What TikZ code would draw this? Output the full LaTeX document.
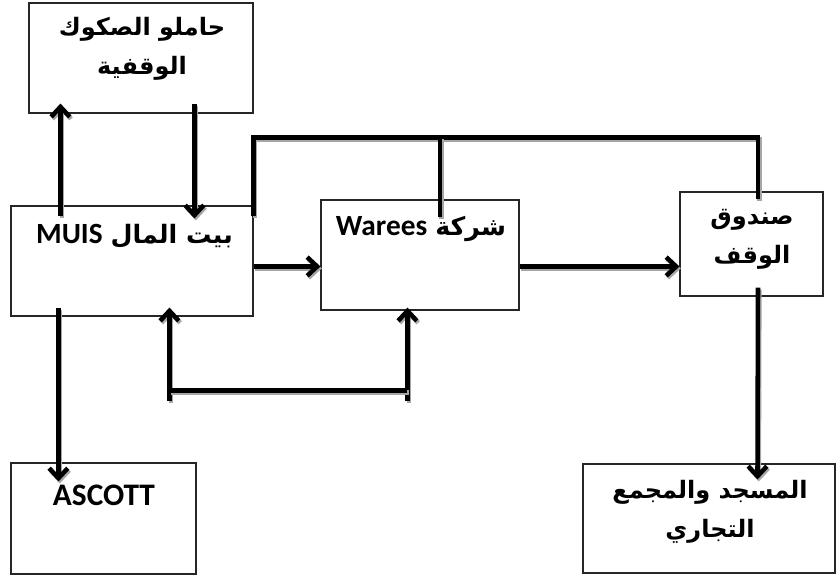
\documentclass[tikz,border=0pt]{standalone}
\usepackage{fontspec}
\usetikzlibrary{arrows.meta,calc}
\TeXXeTstate=1
\newfontfamily\arabicfont[Script=Arabic]{DejaVu Sans}
\newfontfamily\latinfont{Carlito}
\newcommand{\arsmall}{\arabicfont\bfseries\fontsize{19}{22}\selectfont}
\newcommand{\labig}{\latinfont\bfseries\fontsize{22}{24}\selectfont}
\tikzset{
  box/.style={draw=black!85, line width=0.8pt, rectangle, inner sep=0pt},
  lbl/.style={inner sep=0pt, align=center, font=\arabicfont\bfseries\fontsize{18}{29}\selectfont},
  mixlbl/.style={inner sep=0pt, font=\bfseries},
  thick line/.style={line width=3.4pt, line cap=butt,
    preaction={draw=black!35, line width=3.4pt, transform canvas={shift={(1pt,-1.5pt)}}}},
  arr/.style={thick line, -{Straight Barb[length=7.5pt,width=14pt]}},
}
\begin{document}
\begin{tikzpicture}[x=0.75pt,y=-0.75pt]
\useasboundingbox (0,0) rectangle (838,575);
% boxes
\node[box, minimum width=168pt, minimum height=82.5pt] (holders) at (141,58) {};
\node[box, minimum width=181.5pt, minimum height=82.5pt] (muis) at (132,261) {};
\node[box, minimum width=148.5pt, minimum height=82.5pt] (warees) at (420,255) {};
\node[box, minimum width=107.25pt, minimum height=78pt] (fund) at (751.5,244) {};
\node[box, minimum width=138.75pt, minimum height=83.25pt] (ascott) at (103.5,518.5) {};
\node[box, minimum width=189pt, minimum height=81.75pt] (mosque) at (709,518.5) {};
% labels
\node[lbl] (tholders) at (142,49) {\beginR حاملو الصكوك\endR\\\beginR الوقفية\endR};
\node[mixlbl] (tmuis) at (134.5,236) {\beginR{\arsmall بيت المال}\hspace{6pt}\beginL{\labig MUIS}\endL\endR};
\node[mixlbl] (twarees) at (421,229) {\beginR{\arsmall شركة}\hspace{6pt}\beginL{\labig Warees}\endL\endR};
\node[lbl] (tfund) at (752,239) {\beginR صندوق\endR\\\beginR الوقف\endR};
\node[mixlbl, font=\latinfont\bfseries\fontsize{23.5}{26}\selectfont] (tascott) at (104,495) {ASCOTT};
\node[lbl] (tmosque) at (710,512) {\beginR المسجد والمجمع\endR\\\beginR التجاري\endR};
% connectors
\draw[arr] ($(muis.north west)+(50,11)$) -- ($(holders.south west)+(32,-10)$);
\draw[arr] ($(holders.south west)+(166,-10)$) -- ($(muis.north west)+(184,13)$);
\coordinate (topL) at ($(muis.north east)+(0,-68)$);
\coordinate (topR) at ($(fund.north)+(6.5,-54)$);
\draw[thick line] ($(muis.north east)+(0,11)$) -- (topL) -- (topR) -- ($(fund.north)+(6.5,8)$);
\draw[thick line] ($(warees.north)+(20,18)$) -- (topL -| {$(warees.north)+(20,0)$});
\draw[arr] ($(muis.north east)+(0,61)$) -- ($(warees.north west)+(0,67)$);
\draw[arr] ($(warees.north east)+(0,67)$) -- ($(fund.north west)+(0,75)$);
\coordinate (bl) at ($(muis.south west)+(159,84)$);
\coordinate (br) at ($(warees.south west)+(87,90)$);
\draw[arr] (bl) -- ($(muis.south west)+(159,-9)$);
\draw[arr] (br) -- ($(warees.south west)+(87,-3)$);
\draw[thick line] ($(bl)+(0,-10)$) -- ($(br)+(0,-10)$);
\draw[arr] ($(muis.south west)+(48,-9)$) -- ($(ascott.north west)+(48,19)$);
\draw[arr] ($(fund.south)+(6.5,-9)$) -- ($(mosque.north west)+(175,16)$);
\end{tikzpicture}
\end{document}
